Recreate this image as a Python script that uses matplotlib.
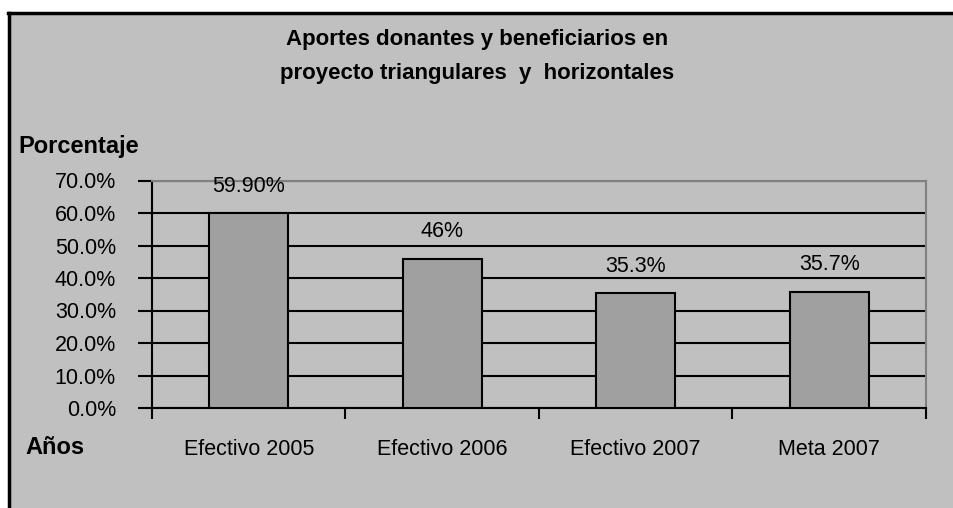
import numpy as np
import matplotlib
matplotlib.use("Agg")
import matplotlib.pyplot as plt
from matplotlib.patches import Rectangle

plt.rcParams['font.family'] = ['Liberation Sans', 'DejaVu Sans']

# datos
categorias = ["Efectivo 2005", "Efectivo 2006", "Efectivo 2007", "Meta 2007"]
valores = [0.599, 0.46, 0.353, 0.357]
etiquetas = ["59.90%", "46%", "35.3%", "35.7%"]
y_ticks = [0.0, 0.1, 0.2, 0.3, 0.4, 0.5, 0.6, 0.7]

W, H = 954, 508
fig = plt.figure(figsize=(W / 100, H / 100), dpi=100, facecolor="white")

# marco gris del grafico (borde negro solo arriba e izquierda)
fondo = Rectangle((9.5 / W, -0.1), 1.2, (H - 13) / H + 0.1,
                  transform=fig.transFigure, facecolor="#c0c0c0",
                  edgecolor="none", zorder=-10)
fig.add_artist(fondo)
fig.add_artist(plt.Line2D([9.5 / W, 9.5 / W], [0, (H - 13) / H], color="black", lw=2.5, zorder=-5))
fig.add_artist(plt.Line2D([8.3 / W, 1], [(H - 13) / H, (H - 13) / H], color="black", lw=2.5, zorder=-5))

ax = fig.add_axes([152 / W, (H - 408) / H, (926 - 152) / W, (408 - 180.5) / H])
ax.set_facecolor("#c0c0c0")

x = np.arange(len(categorias))
bars = ax.bar(x, valores, width=0.41, color="#a0a0a0", edgecolor="black", lw=1.5, zorder=3)

for xi, v, t in zip(x, valores, etiquetas):
    ax.annotate(t, (xi, v), xytext=(0, 19.5), textcoords="offset points",
                ha="center", va="center", fontsize=15.5)

ax.set_xlim(-0.5, len(categorias) - 0.5)
ax.set_ylim(0, 0.7)
ax.set_yticks(y_ticks)
ax.set_yticklabels([f"{v * 100:.1f}%" for v in y_ticks], fontsize=15.5)
ax.yaxis.grid(True, color="black", lw=1.5, zorder=1)
ax.set_axisbelow(True)

# ticks en los limites de categorias, etiquetas centradas
ax.set_xticks(np.arange(-0.5, len(categorias), 1.0))
ax.set_xticklabels([])
ax.set_xticks(x, minor=True)
ax.set_xticklabels(categorias, minor=True, fontsize=15.5)
ax.tick_params(axis="x", which="major", length=8, width=1.5, direction="out")
ax.tick_params(axis="x", which="minor", length=0, pad=22)
ax.tick_params(axis="y", length=10, width=1.5, pad=16)

for s in ["left", "bottom"]:
    ax.spines[s].set_color("black")
    ax.spines[s].set_linewidth(1.5)
for s in ["top", "right"]:
    ax.spines[s].set_color("#808080")
    ax.spines[s].set_linewidth(1.5)

fig.text(477 / W, 1 - 40 / H, "Aportes donantes y beneficiarios en",
         ha="center", va="center", fontsize=16, fontweight="bold")
fig.text(477 / W, 1 - 73 / H, "proyecto triangulares  y  horizontales",
         ha="center", va="center", fontsize=16, fontweight="bold")
fig.text(18 / W, 1 - 147 / H, "Porcentaje", ha="left", va="center",
         fontsize=17, fontweight="bold")
fig.text(25 / W, 1 - 447 / H, "Años", ha="left", va="center",
         fontsize=17, fontweight="bold")

fig.savefig("out.png", dpi=100, facecolor="white")
